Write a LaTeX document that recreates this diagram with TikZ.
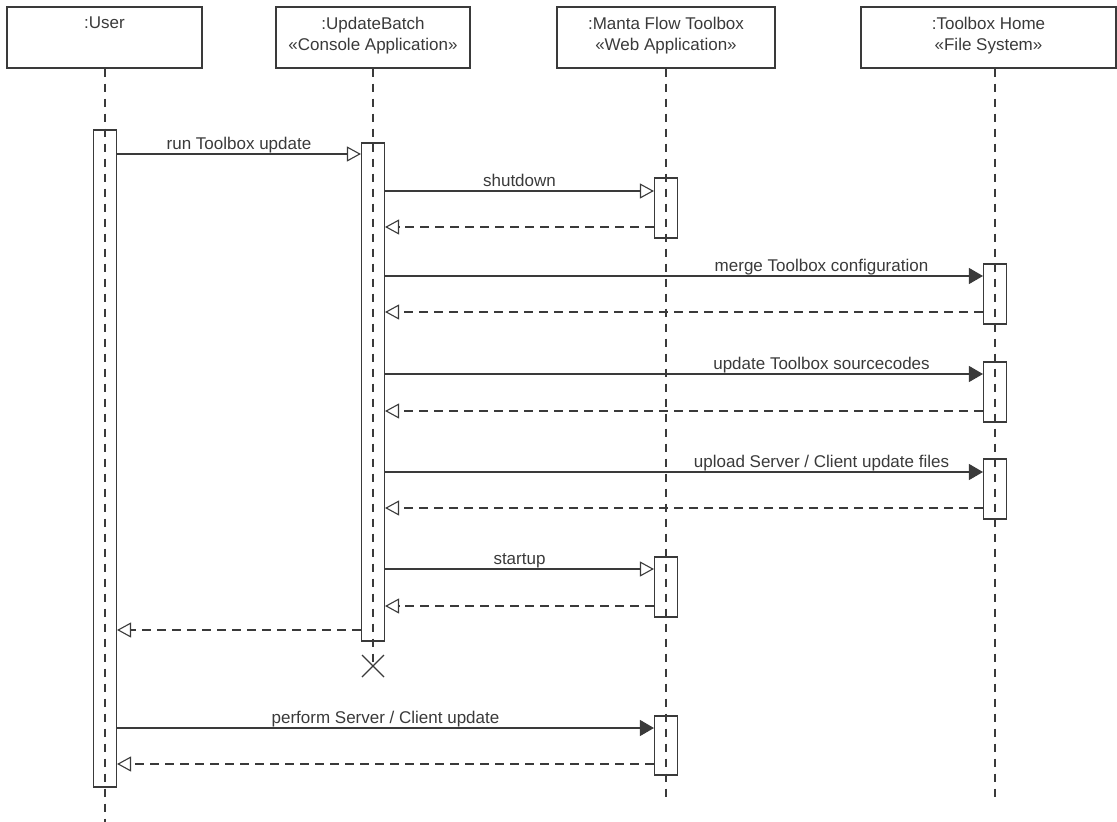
\documentclass[tikz,border=0pt]{standalone}
\usepackage{fontspec}
\setmainfont{Liberation Sans}
\usetikzlibrary{arrows.meta}
\definecolor{umlgray}{HTML}{3A3A3A}
\begin{document}
\begin{tikzpicture}[x=1pt,y=-1pt,line width=1.1pt,draw=umlgray,text=umlgray,
	font=\fontsize{17}{21}\selectfont,
	head/.style={draw,minimum height=61pt,inner sep=0pt},
	headtext/.style={anchor=north,yshift=-10pt,inner sep=0pt,align=center},
	act/.style={draw,minimum width=23pt,inner sep=0pt},
	life/.style={dash pattern=on 8pt off 7pt},
	call/.style={-{Triangle[open,length=14pt,width=15pt]}},
	sync/.style={-{Triangle[length=14pt,width=16pt]}},
	reply/.style={dash pattern=on 9pt off 6pt,-{Triangle[open,length=14pt,width=15pt]}},
	msgl/.style={anchor=base,yshift=5pt,inner sep=0pt}]
	\useasboundingbox (0,0) rectangle (1117,822);
	% participants
	\node[head,minimum width=195pt,label={[headtext]north:{:User}}] (user) at (104.5,37.5) {};
	\node[head,minimum width=194pt,label={[headtext]north:{:UpdateBatch\\«Console Application»}}] (batch) at (373,37.5) {};
	\node[head,minimum width=218pt,label={[headtext]north:{:Manta Flow Toolbox\\«Web Application»}}] (manta) at (666,37.5) {};
	\node[head,minimum width=255pt,label={[headtext]north:{:Toolbox Home\\«File System»}}] (home) at (988.5,37.5) {};
	% activations
	\node[act,minimum height=657pt] (ua) at (105,458.5) {};
	\node[act,minimum height=498pt] (ba) at (373,392) {};
	\node[act,minimum height=60pt] (m1) at (666,208) {};
	\node[act,minimum height=60pt] (m2) at (666,587) {};
	\node[act,minimum height=59pt] (m3) at (666,745.5) {};
	\node[act,minimum height=60pt] (h1) at (995,294) {};
	\node[act,minimum height=60pt] (h2) at (995,392) {};
	\node[act,minimum height=60pt] (h3) at (995,489) {};
	\coordinate (bx) at (373,666);
	% lifelines
	\draw[life] (user.south -| ua) -- (ua |- 0,822);
	\draw[life] (batch.south) -- (bx);
	\draw[life] (manta.south) -- (manta.south |- 0,800);
	\draw[life] (home.south -| h1) -- (h1 |- 0,800);
	% destruction
	\draw ([shift={(-11,-11)}]bx) -- ([shift={(11,11)}]bx);
	\draw ([shift={(-11,11)}]bx) -- ([shift={(11,-11)}]bx);
	% messages
	\draw[call] (ua.east |- 0,154) -- node[msgl]{run Toolbox update} (ba.west |- 0,154);
	\draw[call] (ba.east |- 0,191) -- node[msgl]{shutdown} (m1.west |- 0,191);
	\draw[reply] (m1.west |- 0,227) -- (ba.east |- 0,227);
	\draw[sync] (ba.east |- 0,276) -- node[msgl,pos=0.73]{merge Toolbox configuration} (h1.west |- 0,276);
	\draw[reply] (h1.west |- 0,312) -- (ba.east |- 0,312);
	\draw[sync] (ba.east |- 0,374) -- node[msgl,pos=0.73]{update Toolbox sourcecodes} (h2.west |- 0,374);
	\draw[reply] (h2.west |- 0,411) -- (ba.east |- 0,411);
	\draw[sync] (ba.east |- 0,472) -- node[msgl,pos=0.73]{upload Server / Client update files} (h3.west |- 0,472);
	\draw[reply] (h3.west |- 0,508) -- (ba.east |- 0,508);
	\draw[call] (ba.east |- 0,569) -- node[msgl]{startup} (m2.west |- 0,569);
	\draw[reply] (m2.west |- 0,606) -- (ba.east |- 0,606);
	\draw[reply] (ba.west |- 0,630) -- (ua.east |- 0,630);
	\draw[sync] (ua.east |- 0,728) -- node[msgl]{perform Server / Client update} (m3.west |- 0,728);
	\draw[reply] (m3.west |- 0,764) -- (ua.east |- 0,764);
\end{tikzpicture}
\end{document}
